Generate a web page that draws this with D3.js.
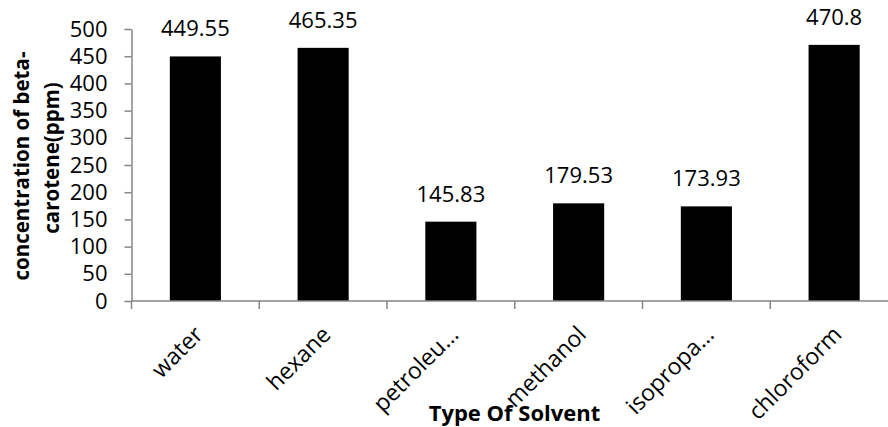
<!DOCTYPE html>
<html>
<head>
<meta charset="utf-8">
<script src="https://cdn.jsdelivr.net/npm/d3@7/dist/d3.min.js"></script>
<style>
  html, body { margin: 0; padding: 0; background: #fff; }
  svg { display: block; font-family: "Open Sans", "Noto Sans", sans-serif; }
</style>
</head>
<body>
<svg id="chart" width="888" height="427"></svg>
<script>
// Solvent categories (labels as shown on the axis) and measured concentrations
const categories = ["water", "hexane", "petroleu…", "methanol", "isopropa…", "chloroform"];
const concentrations = [449.55, 465.35, 145.83, 179.53, 173.93, 470.8];
const yTicks = [0, 50, 100, 150, 200, 250, 300, 350, 400, 450, 500];
const yTitleLines = ["concentration of beta-", "carotene(ppm)"];
const xTitle = "Type Of Solvent";

const svg = d3.select("#chart");
const axisColor = "#868686";

const plot = { left: 131.5, right: 898, top: 29, bottom: 301 };

const x = d3.scaleBand()
  .domain(categories)
  .range([plot.left, plot.right])
  .paddingInner(0.6)
  .paddingOuter(0.3);

const y = d3.scaleLinear()
  .domain([0, 500])
  .range([plot.bottom, plot.top]);

// Bars
svg.append("g")
  .selectAll("rect")
  .data(categories)
  .join("rect")
  .attr("x", d => x(d))
  .attr("width", x.bandwidth())
  .attr("y", (d, i) => y(concentrations[i]))
  .attr("height", (d, i) => y(0) - y(concentrations[i]))
  .attr("fill", "#000");

// Value labels above bars
svg.append("g")
  .selectAll("text")
  .data(categories)
  .join("text")
  .attr("x", d => x(d) + x.bandwidth() / 2)
  .attr("y", (d, i) => y(concentrations[i]) - 20)
  .attr("text-anchor", "middle")
  .attr("font-size", 22)
  .attr("fill", "#000")
  .text((d, i) => concentrations[i]);

// Y axis
const yAxis = svg.append("g")
  .attr("transform", `translate(${plot.left},0)`)
  .call(d3.axisLeft(y).tickValues(yTicks).tickSize(7).tickPadding(17).tickSizeOuter(0));
yAxis.select(".domain").attr("stroke", axisColor).attr("stroke-width", 1.5);
yAxis.selectAll(".tick line").attr("stroke", axisColor).attr("stroke-width", 1.5);
yAxis.selectAll(".tick text")
  .attr("font-size", 22)
  .attr("font-family", "Open Sans")
  .attr("fill", "#000");

// X axis line with tick marks at band boundaries
const bandEdges = d3.range(categories.length + 1).map(i => plot.left + i * (plot.right - plot.left) / categories.length);
svg.append("line")
  .attr("x1", plot.left).attr("x2", plot.right)
  .attr("y1", plot.bottom).attr("y2", plot.bottom)
  .attr("stroke", axisColor).attr("stroke-width", 1.5);
svg.append("g")
  .selectAll("line")
  .data(bandEdges)
  .join("line")
  .attr("x1", d => d).attr("x2", d => d)
  .attr("y1", plot.bottom).attr("y2", plot.bottom + 8)
  .attr("stroke", axisColor).attr("stroke-width", 1.5);

// Rotated category labels
svg.append("g")
  .selectAll("text")
  .data(categories)
  .join("text")
  .attr("transform", d => `translate(${x(d) + x.bandwidth() / 2 + 9},336) rotate(-45)`)
  .attr("text-anchor", "end")
  .attr("font-size", 23)
  .attr("fill", "#000")
  .text(d => d);

// Y axis title (two lines)
svg.append("text")
  .attr("transform", "translate(29,166) rotate(-90)")
  .attr("text-anchor", "middle")
  .attr("font-size", 20.5)
  .attr("font-weight", "bold")
  .attr("fill", "#000")
  .selectAll("tspan")
  .data(yTitleLines)
  .join("tspan")
  .attr("x", (d, i) => i === 0 ? 0 : 8)
  .attr("dy", (d, i) => i === 0 ? 0 : 30)
  .text(d => d);

// X axis title
svg.append("text")
  .attr("x", 514.5)
  .attr("y", 421)
  .attr("text-anchor", "middle")
  .attr("font-size", 22)
  .attr("font-weight", "bold")
  .attr("fill", "#000")
  .text(xTitle);
</script>
</body>
</html>
